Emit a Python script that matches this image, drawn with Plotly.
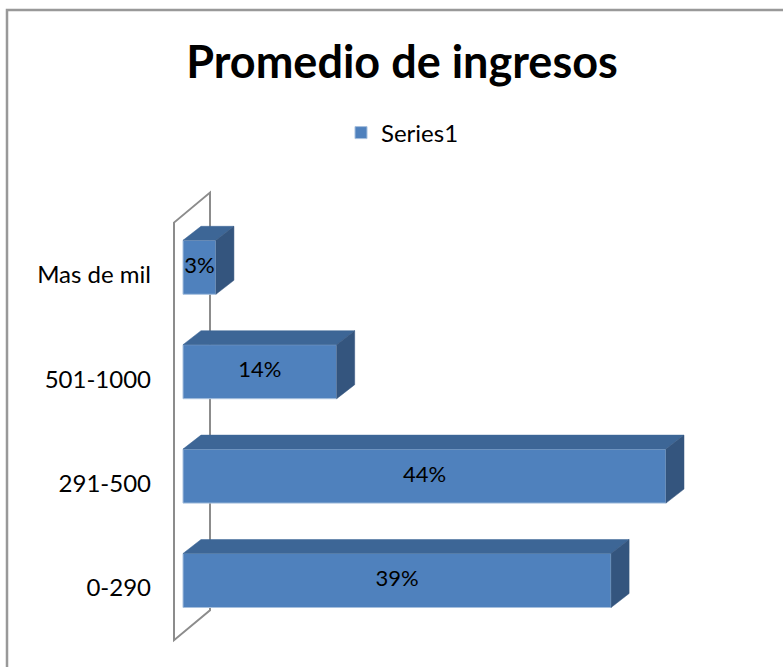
import plotly.graph_objects as go

# ---- data ----
categories = ["0-290", "291-500", "501-1000", "Mas de mil"]
values = [39, 44, 14, 3]
series_name = "Series1"
title_text = "Promedio de ingresos"

# ---- geometry / style constants ----
PX_PER_X = 10.977      # pixels per percent
PX_PER_Y = 104.4       # pixels per category step
FLOOR_DX = 36 / PX_PER_X
FLOOR_DY = 30 / PX_PER_Y
BAR_DX = 18 / PX_PER_X
BAR_DY = 14 / PX_PER_Y
BAR_H = 54 / PX_PER_Y
FRONT_DX = 0.25 * FLOOR_DX
FRONT_DY = 0.25 * FLOOR_DY

FRONT = "#4F81BD"
TOP = "#3D6696"
SIDE = "#34557E"
FONT = "Lato"

W, H = 783, 667
ML = 160
PW = W - ML
n = len(categories)


def px_to_paper_x(px):
    return (px - ML) / PW


fig = go.Figure()

# left wall (parallelogram) drawn beneath the bars
wx0 = -FRONT_DX
wy0 = -0.5
wy1 = n - 0.5
wall_pts = [(wx0, wy0), (wx0, wy1), (wx0 + FLOOR_DX, wy1 + FLOOR_DY),
            (wx0 + FLOOR_DX, wy0 + FLOOR_DY)]
wall_path = "M " + " L ".join(f"{x},{y}" for x, y in wall_pts) + " Z"

ycent = [i + FRONT_DY for i in range(n)]

# top and side faces
for v, yc in zip(values, ycent):
    yt = yc + BAR_H / 2
    yb = yc - BAR_H / 2
    fig.add_trace(go.Scatter(
        x=[0, v, v + BAR_DX, BAR_DX, 0],
        y=[yt, yt, yt + BAR_DY, yt + BAR_DY, yt],
        fill="toself", fillcolor=TOP, mode="lines",
        line=dict(color=TOP, width=0.5),
        showlegend=False, hoverinfo="skip"))
    fig.add_trace(go.Scatter(
        x=[v, v + BAR_DX, v + BAR_DX, v, v],
        y=[yt, yt + BAR_DY, yb + BAR_DY, yb, yt],
        fill="toself", fillcolor=SIDE, mode="lines",
        line=dict(color=SIDE, width=0.5),
        showlegend=False, hoverinfo="skip"))

# front faces
fig.add_trace(go.Bar(
    x=values, y=ycent, orientation="h", width=BAR_H,
    marker=dict(color=FRONT, line=dict(color="#A7C0DE", width=1)),
    name=series_name, hoverinfo="x+y"))

# labels
fig.add_trace(go.Scatter(
    x=[v / 2 for v in values], y=ycent, mode="text",
    text=[f"{v}%" for v in values],
    textfont=dict(family=FONT, size=22, color="black"),
    showlegend=False, hoverinfo="skip"))

x_lo = -(183 - ML) / PX_PER_X
x_hi = (W - 183) / PX_PER_X
y_lo = (588 - H) / PX_PER_Y
y_hi = 588 / PX_PER_Y

fig.update_layout(
    width=W, height=H,
    margin=dict(l=ML, r=0, t=0, b=0),
    paper_bgcolor="white", plot_bgcolor="white",
    font=dict(family=FONT, size=20, color="black"),
    title=dict(text="<b>" + title_text + "</b>", x=402 / W, xanchor="center",
               y=1 - 62 / H, yanchor="middle",
               font=dict(family=FONT, size=45, color="black")),
    legend=dict(orientation="h", x=px_to_paper_x(341), xanchor="left",
                y=1 - 133 / H, yanchor="middle",
                font=dict(family=FONT, size=24), bgcolor="rgba(0,0,0,0)"),
    xaxis=dict(range=[x_lo, x_hi], visible=False, fixedrange=True),
    yaxis=dict(range=[y_lo, y_hi], tickvals=list(range(n)), ticktext=categories,
               showgrid=False, zeroline=False, showline=False, ticks="",
               ticklabelstandoff=8, tickfont=dict(family=FONT, size=24, color="black"),
               fixedrange=True),
    barmode="overlay",
    shapes=[
        dict(type="rect", xref="paper", yref="paper",
             x0=px_to_paper_x(7), x1=1.05, y0=-0.05, y1=1 - 10 / H,
             line=dict(color="#999999", width=2.5), layer="below"),
        dict(type="path", xref="x", yref="y", path=wall_path,
             line=dict(color="#8C8C8C", width=2), layer="below"),
    ],
)

fig.write_html("out.html", config={"displayModeBar": False},
               post_script="document.body.style.margin='0px';")
